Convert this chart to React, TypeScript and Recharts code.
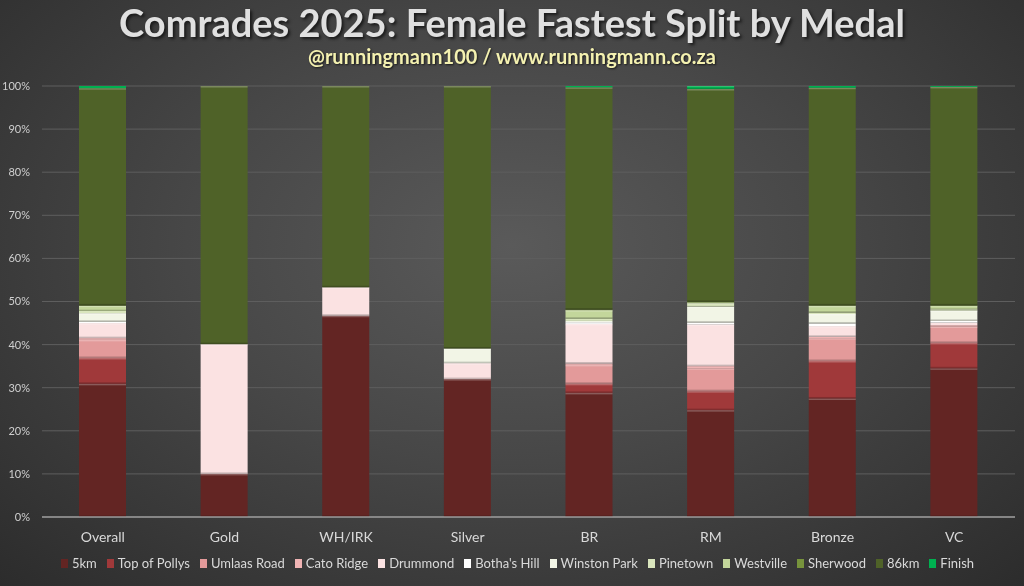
import React from 'react'
import { BarChart, Bar, XAxis, YAxis, CartesianGrid, Legend } from 'recharts'

const MEDALS = ['Overall', 'Gold', 'WH/IRK', 'Silver', 'BR', 'RM', 'Bronze', 'VC']

const SPLITS = [
  '5km',
  'Top of Pollys',
  'Umlaas Road',
  'Cato Ridge',
  'Drummond',
  "Botha's Hill",
  'Winston Park',
  'Pinetown',
  'Westville',
  'Sherwood',
  '86km',
  'Finish',
]

const SPLIT_COLORS = [
  '#632523', // 5km
  '#a0393a', // Top of Pollys
  '#e39a9a', // Umlaas Road
  '#f0b4b4', // Cato Ridge
  '#fbe2e2', // Drummond
  '#ffffff', // Botha's Hill
  '#f2f5e6', // Winston Park
  '#d9e5bd', // Pinetown
  '#c3d69b', // Westville
  '#77933c', // Sherwood
  '#4f6228', // 86km
  '#00b050', // Finish
]

// share (%) of fastest splits per medal, in MEDALS order
const KM5 = [30.9, 10.0, 46.7, 32.0, 28.8, 24.8, 27.5, 34.5]
const TOP_OF_POLLYS = [6.0, 0, 0, 0, 2.1, 4.4, 8.7, 5.9]
const UMLAAS_ROAD = [4.2, 0, 0, 0, 4.4, 5.3, 5.3, 3.8]
const CATO_RIDGE = [0.4, 0, 0, 0, 0.3, 0.5, 0.3, 0.3]
const DRUMMOND = [3.5, 30.1, 6.6, 3.7, 9.2, 9.7, 2.5, 0.6]
const BOTHAS_HILL = [0.3, 0, 0, 0, 0.4, 0.4, 0.6, 0.4]
const WINSTON_PARK = [2.0, 0, 0, 3.4, 0.3, 3.7, 2.2, 2.4]
const PINETOWN = [0.5, 0, 0, 0, 0.5, 0.8, 0.3, 0.3]
const WESTVILLE = [1.2, 0, 0, 0, 2.0, 0.2, 1.6, 0.8]
const SHERWOOD = [0.1, 0, 0, 0, 0.1, 0.1, 0.1, 0.1]
const KM86 = [50.4, 59.9, 46.7, 60.9, 51.6, 49.4, 50.5, 50.7]
const FINISH = [0.5, 0, 0, 0, 0.3, 0.7, 0.4, 0.2]

const SERIES = [
  KM5,
  TOP_OF_POLLYS,
  UMLAAS_ROAD,
  CATO_RIDGE,
  DRUMMOND,
  BOTHAS_HILL,
  WINSTON_PARK,
  PINETOWN,
  WESTVILLE,
  SHERWOOD,
  KM86,
  FINISH,
]

const Y_TICKS = [0, 10, 20, 30, 40, 50, 60, 70, 80, 90, 100]

const data = MEDALS.map((medal, i) => {
  const row: Record<string, string | number> = { medal }
  SPLITS.forEach((s, j) => {
    row[s] = SERIES[j][i]
  })
  return row
})

const FONT = 'Lato, "Open Sans", sans-serif'

// bar segment with a soft bevel like the original
const BevelRect = (props: any) => {
  const { x, y, width, height, fill } = props
  if (!height || height <= 0) return null
  const edge = Math.min(1.5, height / 4)
  return (
    <g>
      <rect x={x} y={y} width={width} height={height} fill={fill} />
      {height > 3 && (
        <>
          <rect x={x} y={y} width={width} height={edge} fill="#ffffff" opacity={0.25} />
          <rect x={x} y={y + height - edge} width={width} height={edge} fill="#000000" opacity={0.2} />
        </>
      )}
    </g>
  )
}

const renderLegend = () => (
  <div
    style={{
      display: 'flex',
      justifyContent: 'center',
      alignItems: 'center',
      gap: 10,
      fontSize: 13,
      fontFamily: FONT,
      color: '#d9d9d9',
      paddingLeft: 20,
    }}
  >
    {SPLITS.map((s, j) => (
      <span key={s} style={{ display: 'flex', alignItems: 'center' }}>
        <span
          style={{
            display: 'inline-block',
            width: 7,
            height: 9,
            marginRight: 4,
            background: SPLIT_COLORS[j],
          }}
        />
        {s}
      </span>
    ))}
  </div>
)

export default function App() {
  return (
    <div
      style={{
        position: 'fixed',
        top: 0,
        left: 0,
        width: 1024,
        height: 586,
        overflow: 'hidden',
        fontFamily: FONT,
        background: 'radial-gradient(ellipse at 50% 42%, #5a5a5a 0%, #474747 45%, #2c2c2c 100%)',
      }}
    >
      <div
        style={{
          position: 'absolute',
          top: 0,
          left: 0,
          width: 1024,
          textAlign: 'center',
          fontSize: 38,
          fontWeight: 700,
          color: '#e0e0e0',
          lineHeight: '44px',
          textShadow: '2px 2px 3px #1a1a1a',
        }}
      >
        Comrades 2025: Female Fastest Split by Medal
      </div>
      <div
        style={{
          position: 'absolute',
          top: 45,
          left: 0,
          width: 1024,
          textAlign: 'center',
          fontSize: 20,
          fontWeight: 700,
          color: '#f4f1b0',
          lineHeight: '22px',
          textShadow: '1px 1px 2px #1a1a1a',
        }}
      >
        @runningmann100 / www.runningmann.co.za
      </div>
      <div style={{ position: 'absolute', top: 0, left: 0 }}>
        <BarChart
          width={1024}
          height={586}
          data={data}
          margin={{ top: 86, right: 9, bottom: 0, left: 0 }}
          barCategoryGap={0}
        >
          <CartesianGrid vertical={false} stroke="#5e5e5e" strokeWidth={1} />
          <XAxis
            dataKey="medal"
            axisLine={{ stroke: '#9a9a9a', strokeWidth: 1.5 }}
            tickLine={false}
            tick={{ fill: '#d9d9d9', fontSize: 14, fontFamily: FONT }}
            tickMargin={9}
            height={38}
          />
          <YAxis
            domain={[0, 100]}
            ticks={Y_TICKS}
            allowDataOverflow
            width={42}
            axisLine={false}
            tickLine={false}
            tick={{ fill: '#cfcfcf', fontSize: 11, fontFamily: FONT }}
            tickFormatter={(v: number) => `${v}%`}
            tickMargin={6}
          />
          <Legend verticalAlign="bottom" align="center" height={31} content={renderLegend} />
          {SPLITS.map((s, j) => (
            <Bar
              key={s}
              dataKey={s}
              stackId="a"
              fill={SPLIT_COLORS[j]}
              barSize={47}
              shape={BevelRect}
              isAnimationActive={false}
            />
          ))}
        </BarChart>
      </div>
    </div>
  )
}
